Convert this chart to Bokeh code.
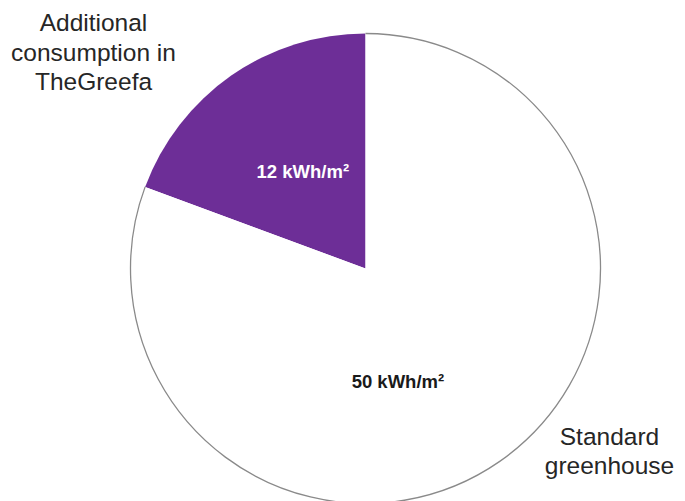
import math
from bokeh.plotting import figure
from bokeh.models import Range1d
from bokeh.core.properties import value
from bokeh.embed import file_html
from bokeh.resources import INLINE

# ---- data ----
categories = ["Additional consumption in TheGreefa", "Standard greenhouse"]
values = [12, 50]
value_labels = ["12 kWh/m²", "50 kWh/m²"]
outer_label_lines = [["Additional", "consumption in", "TheGreefa"], ["Standard", "greenhouse"]]
colors = ["#6d2e97", "#ffffff"]

W, H = 685, 501
p = figure(width=W, height=H, output_backend="svg", toolbar_location=None,
           x_range=Range1d(0, W), y_range=Range1d(0, H), min_border=0)
p.axis.visible = False
p.grid.visible = False
p.outline_line_color = None
p.background_fill_color = "white"
p.border_fill_color = "white"

cx, cy, R = 365, H - 268, 235
total = sum(values)
start = math.pi / 2
starts, ends = [], []
a = start
for v in values:
    starts.append(a)
    a += 2 * math.pi * v / total
    ends.append(a)

for i in range(len(values)):
    p.wedge(x=cx, y=cy, radius=R, start_angle=starts[i], end_angle=ends[i],
            fill_color=colors[i], line_color=None)

# outline around the white slice's arc
p.arc(x=cx, y=cy, radius=R, start_angle=starts[1], end_angle=ends[1],
      line_color="#8a8a8a", line_width=1.3)

# value labels inside the slices
label_angles = [math.radians(123), math.radians(286)]
label_r = [0.49 * R, 0.5 * R]
label_colors = ["white", "#1a1a1a"]
for i in range(len(values)):
    lx = cx + label_r[i] * math.cos(label_angles[i])
    ly = cy + label_r[i] * math.sin(label_angles[i])
    p.text(x=[lx], y=[ly], text=[value_labels[i]], text_align="center",
           text_baseline="middle", text_font=value("Liberation Sans"),
           text_font_style="bold", text_font_size="18.5px", text_color=label_colors[i])

# category labels outside
outer_pos = [(93, 22), (609, 436)]
pitch = [29.5, 28.5]
for i, lines in enumerate(outer_label_lines):
    x0, y0 = outer_pos[i]
    for j, line in enumerate(lines):
        p.text(x=[x0], y=[H - (y0 + pitch[i] * j)], text=[line], text_align="center",
               text_baseline="alphabetic", text_font=value("Liberation Sans"),
               text_font_size="24.5px", text_color="#262626")

open("out.html", "w").write(file_html(p, INLINE))
